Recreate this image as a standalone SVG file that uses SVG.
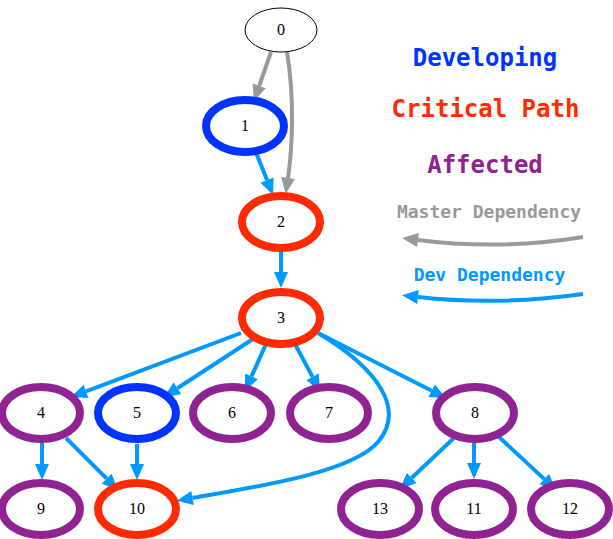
<svg xmlns="http://www.w3.org/2000/svg" width="613" height="539" viewBox="0 0 613 539">
<style>
.n{fill:#fff;stroke-width:8}
.dev{stroke:#0033ff}
.crit{stroke:#ff2a00}
.aff{stroke:#8e2391}
.lbl{font-family:"Liberation Serif","Times New Roman",serif;font-size:16px;text-anchor:middle;fill:#000}
.e{fill:none;stroke-width:4}
.eb{stroke:#0099ff;marker-end:url(#ab)}
.eg{stroke:#999999;marker-end:url(#ag)}
.leg{font-family:"DejaVu Sans Mono","Liberation Mono",monospace;font-weight:bold;text-anchor:middle}
</style>
<defs>
<marker id="ab" markerUnits="userSpaceOnUse" markerWidth="18" markerHeight="16" viewBox="0 -8 17 16" refX="0" refY="0" orient="auto"><path d="M0,-7 L16,0 L0,7 Z" fill="#0099ff"/></marker>
<marker id="ag" markerUnits="userSpaceOnUse" markerWidth="18" markerHeight="16" viewBox="0 -8 17 16" refX="0" refY="0" orient="auto"><path d="M0,-7 L16,0 L0,7 Z" fill="#999999"/></marker>
</defs>
<rect width="613" height="539" fill="#fff"/>
<g id="connectors">
<path class="e eg" d="M271,52 L259.2,85.9"/>
<path class="e eg" d="M287,52 C295,100 292,150 288,178"/>
<path class="e eb" d="M255,150 L267.1,180.2"/>
<path class="e eb" d="M281,252 L281,272"/>
<path class="e eb" d="M241,333 L86,391.4"/>
<path class="e eb" d="M253,339 L177.4,388.3"/>
<path class="e eb" d="M266,344 L251.5,376.4"/>
<path class="e eb" d="M295,344 L312.5,376.9"/>
<path class="e eb" d="M320,334 L431.7,390.8"/>
<path class="e eb" d="M318,333 C380,370 405,410 378,442 C352,472 262,486 192.5,498"/>
<path class="e eb" d="M42,443 L42,464"/>
<path class="e eb" d="M66,438 L106.7,478.7"/>
<path class="e eb" d="M137,444 L137,464"/>
<path class="e eb" d="M455,437 L411.6,478"/>
<path class="e eb" d="M474,443 L474,463"/>
<path class="e eb" d="M499,437 L544.3,479.1"/>
</g>
<g id="n0"><ellipse cx="281" cy="30" rx="36" ry="22" fill="#fff" stroke="#000" stroke-width="1"/><text class="lbl" x="281" y="35">0</text></g>
<g id="n1"><ellipse class="n dev" cx="245" cy="126" rx="39" ry="26"/><text class="lbl" x="245" y="131">1</text></g>
<g id="n2"><ellipse class="n crit" cx="281" cy="222" rx="39" ry="26"/><text class="lbl" x="281" y="227">2</text></g>
<g id="n3"><ellipse class="n crit" cx="281" cy="318" rx="39" ry="26"/><text class="lbl" x="281" y="323">3</text></g>
<g id="n4"><ellipse class="n aff" cx="41" cy="413" rx="39" ry="26"/><text class="lbl" x="41" y="418">4</text></g>
<g id="n5"><ellipse class="n dev" cx="137" cy="413" rx="39" ry="26"/><text class="lbl" x="137" y="418">5</text></g>
<g id="n6"><ellipse class="n aff" cx="232" cy="413" rx="39" ry="26"/><text class="lbl" x="232" y="418">6</text></g>
<g id="n7"><ellipse class="n aff" cx="329" cy="413" rx="39" ry="26"/><text class="lbl" x="329" y="418">7</text></g>
<g id="n8"><ellipse class="n aff" cx="475" cy="413" rx="39" ry="26"/><text class="lbl" x="475" y="418">8</text></g>
<g id="n9"><ellipse class="n aff" cx="41" cy="509" rx="39" ry="26"/><text class="lbl" x="41" y="514">9</text></g>
<g id="n10"><ellipse class="n crit" cx="137" cy="509" rx="39" ry="26"/><text class="lbl" x="137" y="514">10</text></g>
<g id="n13"><ellipse class="n aff" cx="380" cy="509" rx="39" ry="26"/><text class="lbl" x="380" y="514">13</text></g>
<g id="n11"><ellipse class="n aff" cx="474" cy="509" rx="39" ry="26"/><text class="lbl" x="474" y="514">11</text></g>
<g id="n12"><ellipse class="n aff" cx="570" cy="509" rx="39" ry="26"/><text class="lbl" x="570" y="514">12</text></g>
<g id="legend">
<text class="leg" x="485" y="66" font-size="24" fill="#0033ff">Developing</text>
<text class="leg" x="485.5" y="117" font-size="24" fill="#ff2a00">Critical Path</text>
<text class="leg" x="485" y="173" font-size="24" fill="#8e2391">Affected</text>
<text class="leg" x="489" y="218" font-size="18" fill="#999999">Master Dependency</text>
<path class="e eg" d="M583,237 C540,244 480,248 418,240"/>
<text class="leg" x="489.5" y="281" font-size="18" fill="#0099ff">Dev Dependency</text>
<path class="e eb" d="M583,294 C540,300 480,304 418,297"/>
</g>
</svg>
